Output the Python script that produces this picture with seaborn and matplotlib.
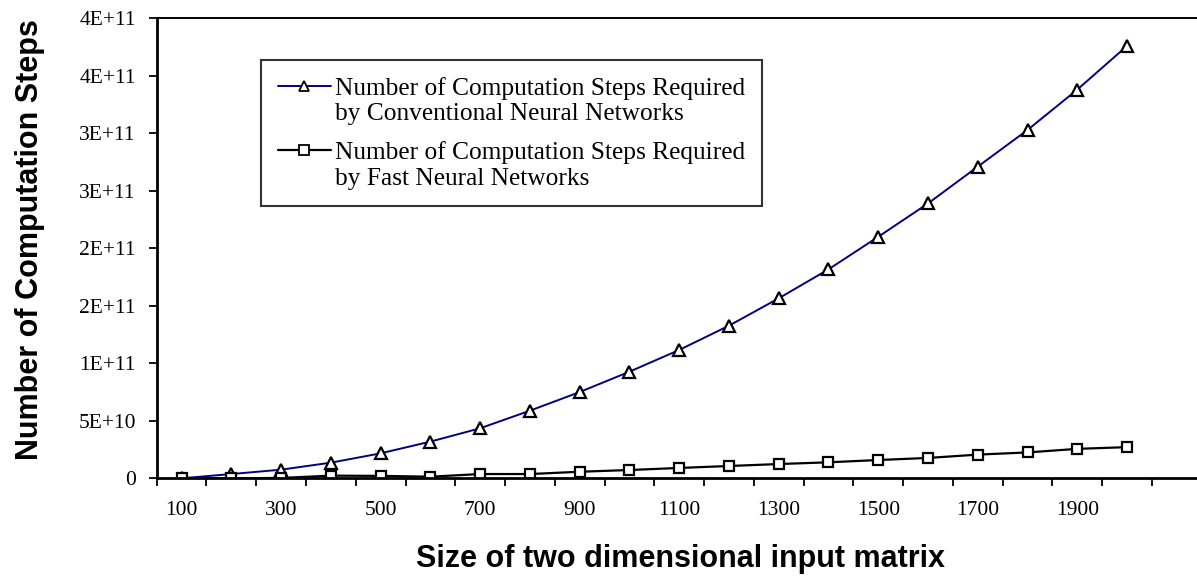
import numpy as np
import pandas as pd
import matplotlib
matplotlib.use("Agg")
import matplotlib.pyplot as plt
import seaborn as sns

# ---------------- data ----------------
sizes = [100, 200, 300, 400, 500, 600, 700, 800, 900, 1000,
         1100, 1200, 1300, 1400, 1500, 1600, 1700, 1800, 1900, 2000]
conventional_steps = [0.0e9, 3.7e9, 7.5e9, 13.6e9, 21.7e9, 31.9e9, 43.5e9, 58.8e9, 75.0e9, 92.7e9,
                      111.6e9, 132.7e9, 156.5e9, 181.7e9, 210.0e9, 239.0e9, 271.0e9, 302.9e9, 338.0e9, 376.0e9]
fast_steps = [0.0e9, 0.0e9, 0.3e9, 2.3e9, 2.1e9, 1.4e9, 3.7e9, 3.7e9, 5.7e9, 7.2e9,
              9.0e9, 10.7e9, 12.4e9, 13.9e9, 15.9e9, 17.7e9, 20.6e9, 22.5e9, 25.6e9, 27.1e9]
series_labels = ["Number of Computation Steps Required\nby Conventional Neural Networks",
                 "Number of Computation Steps Required\nby Fast Neural Networks"]
xtick_values = [100, 300, 500, 700, 900, 1100, 1300, 1500, 1700, 1900]
xtick_labels = ["100", "300", "500", "700", "900", "1100", "1300", "1500", "1700", "1900"]
ytick_values = [0, 5e10, 1e11, 1.5e11, 2e11, 2.5e11, 3e11, 3.5e11, 4e11]
ytick_labels = ["0", "5E+10", "1E+11", "2E+11", "2E+11", "3E+11", "3E+11", "4E+11", "4E+11"]
x_title = "Size of two dimensional input matrix"
y_title = "Number of Computation Steps"

# ---------------- style ----------------
sns.set_style("white")
plt.rcParams["font.family"] = ["Liberation Serif", "DejaVu Serif"]
plt.rcParams["text.color"] = "black"
plt.rcParams["axes.labelcolor"] = "black"
plt.rcParams["xtick.color"] = "black"
plt.rcParams["ytick.color"] = "black"
plt.rcParams["xtick.labelcolor"] = "black"
plt.rcParams["ytick.labelcolor"] = "black"

W, H = 1197, 578
fig = plt.figure(figsize=(W / 100, H / 100), dpi=100)
left_px, right_px, top_px, bottom_px = 156.7, 1201.7, 18.3, 478.3
ax = fig.add_axes([left_px / W, 1 - bottom_px / H, (right_px - left_px) / W, (bottom_px - top_px) / H])

df = pd.DataFrame({"size": sizes, "conv": conventional_steps, "fast": fast_steps})

sns.lineplot(data=df, x="size", y="conv", ax=ax, color="#000080", lw=1.4,
             marker="^", markersize=9, markerfacecolor="white", markeredgecolor="black",
             markeredgewidth=1.6, label=series_labels[0])
sns.lineplot(data=df, x="size", y="fast", ax=ax, color="black", lw=1.6,
             marker="s", markersize=7.5, markerfacecolor="white", markeredgecolor="black",
             markeredgewidth=1.6, label=series_labels[1])

ax.set_xlim(50, 2150)
ax.set_ylim(0, 4e11)

# category-style boundaries as tick marks, labels at centers
ax.set_xticks(np.arange(50, 2151, 100))
ax.set_xticklabels([])
ax.set_xticks(xtick_values, minor=True)
ax.set_xticklabels(xtick_labels, minor=True)
ax.tick_params(axis="x", which="major", direction="out", length=6, width=1.3, color="black", bottom=True)
ax.tick_params(axis="x", which="minor", length=0, pad=16, labelsize=15.5, labelcolor="black")

ax.set_yticks(ytick_values)
ax.set_yticklabels(ytick_labels)
ax.tick_params(axis="y", direction="out", length=6, width=1.3, color="black", left=True, pad=9,
               labelsize=15.5, labelcolor="black")

ax.set_xlabel("")
ax.set_ylabel("")
for s in ["left", "bottom"]:
    ax.spines[s].set_linewidth(2.0)
    ax.spines[s].set_color("black")
ax.spines["top"].set_linewidth(1.4)
ax.spines["top"].set_color("black")
ax.spines["right"].set_visible(False)

fig.text(30 / W, 1 - 240 / H, y_title, rotation=90, ha="center", va="center", color="black",
         fontsize=22, fontweight="bold", family=["Liberation Sans", "DejaVu Sans"])
fig.text(680 / W, 1 - 559 / H, x_title, ha="center", va="center", color="black",
         fontsize=22, fontweight="bold", family=["Liberation Sans", "DejaVu Sans"])

leg = ax.legend(loc="upper left", bbox_to_anchor=(261 / W, 1 - 60 / H), bbox_transform=fig.transFigure,
                borderaxespad=0, frameon=True, fancybox=False, shadow=False,
                fontsize=18.3, handlelength=2.1, handletextpad=0.16, labelspacing=0.62,
                borderpad=0.65, labelcolor="black")
leg.get_frame().set_edgecolor("black")
leg.get_frame().set_linewidth(1.5)
for t in leg.get_texts():
    t.set_linespacing(1.22)
for h in leg.get_lines():
    h.set_markersize(6.5)
    h.set_markeredgewidth(1.3)
    y = h.get_ydata()
    h.set_ydata(np.asarray(y) + 10.5)

fig.savefig("out.png", dpi=100)
